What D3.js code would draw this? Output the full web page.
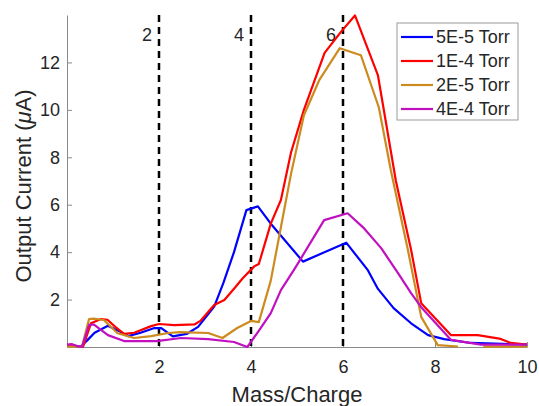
<!DOCTYPE html>
<meta charset="utf-8">
<style>
body { margin: 0; background: #fff; }
text { font-family: "Liberation Sans", Arial, sans-serif; fill: #262626; }
.axis path, .axis line { stroke: #8a8a8a; fill: none; }
</style>
<body>
<script src="https://d3js.org/d3.v7.min.js"></script>
<script>

// series: [mass/charge, current in uA]
var torr5e5 = [[0,0.05],[0.15,0.05],[0.3,0.02],[0.45,0.3],[0.6,0.6],[0.89,0.9],[1.1,0.7],[1.33,0.46],[1.6,0.6],[1.9,0.8],[2.05,0.8],[2.3,0.45],[2.6,0.55],[2.85,0.85],[3.2,1.7],[3.4,2.7],[3.63,4.0],[3.9,5.77],[4.15,5.93],[4.43,5.2],[5.13,3.6],[6.07,4.4],[6.54,3.24],[6.76,2.45],[7.1,1.64],[7.48,1.0],[7.85,0.5],[8.2,0.33],[8.78,0.17],[10,0.1]];
var torr1e4 = [[0,0.05],[0.2,0.05],[0.35,0.02],[0.52,1.0],[0.74,1.18],[0.88,1.15],[1.05,0.85],[1.24,0.55],[1.46,0.6],[1.83,0.88],[2.0,0.97],[2.33,0.92],[2.77,0.95],[2.9,1.1],[3.2,1.77],[3.42,1.98],[3.64,2.48],[3.82,2.9],[4.07,3.4],[4.17,3.5],[4.43,5.2],[4.65,6.2],[4.87,8.2],[5.15,10.0],[5.6,12.4],[5.96,13.3],[6.26,13.98],[6.76,11.45],[7.15,7.0],[7.48,4.1],[7.7,1.85],[8.35,0.5],[8.93,0.5],[9.43,0.34],[9.65,0.17],[10,0.1]];
var torr2e5 = [[0,0.02],[0.2,0.02],[0.33,0.05],[0.48,1.18],[0.58,1.2],[0.8,1.14],[1.1,0.58],[1.46,0.38],[1.83,0.46],[2.2,0.59],[2.46,0.63],[3.07,0.59],[3.38,0.38],[3.7,0.8],[4.0,1.1],[4.17,1.05],[4.43,2.8],[4.65,5.05],[4.87,7.3],[5.15,9.77],[5.48,11.24],[5.93,12.6],[6.39,12.3],[6.78,10.1],[7.04,7.45],[7.41,4.1],[7.7,1.27],[8.06,0.08],[8.5,0.02],[8.6,null],[9.0,null],[9.05,0.02],[10,0.02]];
var torr4e4 = [[0,0.1],[0.1,0.12],[0.2,0.05],[0.33,0.02],[0.48,0.93],[0.58,0.95],[0.89,0.5],[1.24,0.25],[1.95,0.25],[2.48,0.38],[3.07,0.33],[3.63,0.21],[3.92,0.0],[4.15,0.63],[4.43,1.43],[4.65,2.4],[4.93,3.24],[5.09,3.75],[5.59,5.35],[6.1,5.64],[6.46,5.0],[6.83,4.17],[7.2,3.1],[7.48,2.27],[7.7,1.68],[8.35,0.3],[9.0,0.1],[10,0.1]];

var seriesNames = ['5E-5 Torr', '1E-4 Torr', '2E-5 Torr', '4E-4 Torr'];
var seriesColors = ['#0000ff', '#ff0000', '#cc8a1f', '#c010c0'];
var markers = [2, 4, 6];
var xTicks = [2, 4, 6, 8, 10];
var yTicks = [2, 4, 6, 8, 10, 12];

var width = 539, height = 406;
var margin = {left: 67, right: 12, top: 15, bottom: 59};

var svg = d3.select('body').append('svg')
  .attr('width', width)
  .attr('height', height);

var x = d3.scaleLinear().domain([0, 10]).range([margin.left, width - margin.right]);
var y = d3.scaleLinear().domain([0, 14]).range([height - margin.bottom, margin.top]);

// axes (ticks point inward, like matlab)
var xAxis = svg.append('g').attr('class', 'axis')
  .attr('transform', 'translate(0,' + y(0) + ')')
  .call(d3.axisBottom(x).tickValues(xTicks).tickSizeInner(-5).tickSizeOuter(0).tickPadding(13));
var yAxis = svg.append('g').attr('class', 'axis')
  .attr('transform', 'translate(' + x(0) + ',0)')
  .call(d3.axisLeft(y).tickValues(yTicks).tickSizeInner(-5).tickSizeOuter(0).tickPadding(7));
svg.selectAll('.axis text').attr('font-size', 18).attr('fill', '#262626')
  .attr('font-family', '"Liberation Sans", Arial, sans-serif');

// dashed reference lines
svg.selectAll('.marker').data(markers).enter().append('line')
  .attr('class', 'marker')
  .attr('x1', d => x(d)).attr('x2', d => x(d))
  .attr('y1', y(14)).attr('y2', y(0))
  .attr('stroke', '#000')
  .attr('stroke-width', 2.5)
  .attr('stroke-dasharray', '7,5');
svg.selectAll('.marker-label').data(markers).enter().append('text')
  .attr('x', d => x(d) - 7)
  .attr('y', 41)
  .attr('text-anchor', 'end')
  .attr('font-size', 18)
  .text(d => d);

var line = d3.line()
  .defined(d => d[1] !== null)
  .x(d => x(d[0]))
  .y(d => y(d[1]));

var allSeries = [torr5e5, torr1e4, torr2e5, torr4e4];
svg.selectAll('.series').data(allSeries).enter().append('path')
  .attr('class', 'series')
  .attr('d', line)
  .attr('fill', 'none')
  .attr('stroke', (d, i) => seriesColors[i])
  .attr('stroke-width', 2.2)
  .attr('stroke-linejoin', 'round');

// axis labels
svg.append('text')
  .attr('x', (x(0) + x(10)) / 2)
  .attr('y', 402)
  .attr('text-anchor', 'middle')
  .attr('font-size', 22)
  .text('Mass/Charge');
svg.append('text')
  .attr('transform', 'translate(31,' + 186 + ') rotate(-90)')
  .attr('text-anchor', 'middle')
  .attr('font-size', 22)
  .html('Output Current (<tspan font-style="italic">μ</tspan>A)');

// legend
var legend = svg.append('g').attr('transform', 'translate(397,23)');
legend.append('rect')
  .attr('width', 121).attr('height', 97)
  .attr('fill', '#fff').attr('stroke', '#9a9a9a').attr('stroke-width', 1);
var item = legend.selectAll('.item').data(seriesNames).enter().append('g')
  .attr('transform', (d, i) => 'translate(0,' + (14 + i * 24) + ')');
item.append('line')
  .attr('x1', 4).attr('x2', 36)
  .attr('stroke', (d, i) => seriesColors[i])
  .attr('stroke-width', 2.2);
item.append('text')
  .attr('x', 39).attr('y', 6)
  .attr('font-size', 18)
  .text(d => d);

</script>
</body>
</html>
